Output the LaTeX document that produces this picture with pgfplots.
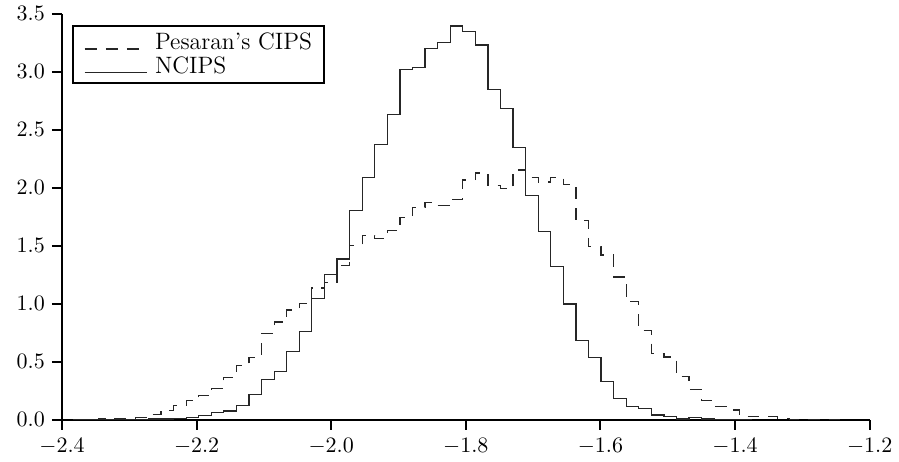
\documentclass[border=0pt]{standalone}
\usepackage{pgfplots}
\pgfplotsset{compat=1.18}

\begin{document}
\begin{tikzpicture}
\begin{axis}[
    scale only axis,
    width=402pt,
    height=202pt,
    xmin=-2.4, xmax=-1.2,
    ymin=0, ymax=3.5,
    xtick={-2.4,-2.2,-2.0,-1.8,-1.6,-1.4,-1.2},
    ytick={0,0.5,1.0,1.5,2.0,2.5,3.0,3.5},
    xticklabel style={yshift=-1pt, /pgf/number format/.cd,fixed,fixed zerofill,precision=1},
    yticklabel style={/pgf/number format/.cd,fixed,fixed zerofill,precision=1},
    axis lines=left,
    axis line style={-, line width=1pt},
    tick style={line width=1pt, black},
    major tick length=5pt,
    tick align=outside,
    ticklabel style={font=\fontsize{10.5}{12}\selectfont},
    legend style={at={(0.012,0.973)}, anchor=north west, draw=black, line width=1pt,
        font=\fontsize{11.8}{13}\selectfont, inner xsep=4pt, inner ysep=1.5pt,
        row sep=-2pt},
    legend cell align=left,
    legend image code/.code={\path[draw=none] (-2pt,0pt) -- (33pt,0pt);
        \draw[#1, line width=0.6pt] (0pt,-3.2pt) -- (31pt,-3.2pt);},
    every axis plot/.append style={line width=0.6pt, black!85, const plot mark left},
]
% Pesaran's CIPS
\addplot[dash pattern=on 6pt off 4.5pt] coordinates {
(-2.38366,0.002) (-2.36498,0.003) (-2.34630,0.006) (-2.32762,0.011) (-2.30894,0.012)
(-2.29026,0.017) (-2.27158,0.043) (-2.25290,0.080) (-2.23422,0.121) (-2.21554,0.165)
(-2.19686,0.205) (-2.17818,0.266) (-2.15950,0.364) (-2.14082,0.468) (-2.12214,0.537)
(-2.10346,0.745) (-2.08478,0.842) (-2.06610,0.945) (-2.04742,1.000) (-2.02874,1.135)
(-2.01006,1.180) (-1.99138,1.330) (-1.97270,1.500) (-1.95402,1.585) (-1.93534,1.560)
(-1.91666,1.630) (-1.89798,1.740) (-1.87930,1.830) (-1.86062,1.873) (-1.84194,1.845)
(-1.82326,1.900) (-1.80458,2.066) (-1.78590,2.127) (-1.76722,2.017) (-1.74854,1.990)
(-1.72986,2.153) (-1.71118,2.090) (-1.69250,2.050) (-1.67382,2.090) (-1.65514,2.030)
(-1.63646,1.714) (-1.61778,1.490) (-1.59910,1.420) (-1.58042,1.230) (-1.56174,1.020)
(-1.54306,0.770) (-1.52438,0.570) (-1.50570,0.540) (-1.48702,0.370) (-1.46834,0.260)
(-1.44966,0.165) (-1.43098,0.110) (-1.41230,0.084) (-1.39362,0.030) (-1.37494,0.025)
(-1.35626,0.026) (-1.33758,0.010) (-1.31890,0.004) (-1.30022,0.004) (-1.28154,0.004)
(-1.26286,0.002) (-1.24418,0.002)
};
\addlegendentry{Pesaran's CIPS}
% NCIPS
\addplot[solid] coordinates {
(-2.38366,0.001) (-2.36498,0.001) (-2.34630,0.002) (-2.32762,0.002) (-2.30894,0.003)
(-2.29026,0.003) (-2.27158,0.005) (-2.25290,0.006) (-2.23422,0.011) (-2.21554,0.020)
(-2.19686,0.037) (-2.17818,0.060) (-2.15950,0.075) (-2.14082,0.124) (-2.12214,0.214)
(-2.10346,0.344) (-2.08478,0.413) (-2.06610,0.589) (-2.04742,0.762) (-2.02874,1.045)
(-2.01006,1.253) (-1.99138,1.385) (-1.97270,1.807) (-1.95402,2.090) (-1.93534,2.370)
(-1.91666,2.630) (-1.89798,3.020) (-1.87930,3.035) (-1.86062,3.200) (-1.84194,3.250)
(-1.82326,3.395) (-1.80458,3.350) (-1.78590,3.230) (-1.76722,2.846) (-1.74854,2.680)
(-1.72986,2.350) (-1.71118,1.930) (-1.69250,1.620) (-1.67382,1.318) (-1.65514,0.998)
(-1.63646,0.684) (-1.61778,0.537) (-1.59910,0.329) (-1.58042,0.184) (-1.56174,0.113)
(-1.54306,0.093) (-1.52438,0.040) (-1.50570,0.026) (-1.48702,0.006) (-1.46834,0.017)
(-1.44966,0.005) (-1.43098,0.003) (-1.41230,0.001) (-1.39362,0.001) (-1.37494,0.001)
};
\addlegendentry{NCIPS}
\end{axis}
% a little white room to the left, as in the reference
\path ([xshift=-5pt]current bounding box.south west);
\end{tikzpicture}
\end{document}
